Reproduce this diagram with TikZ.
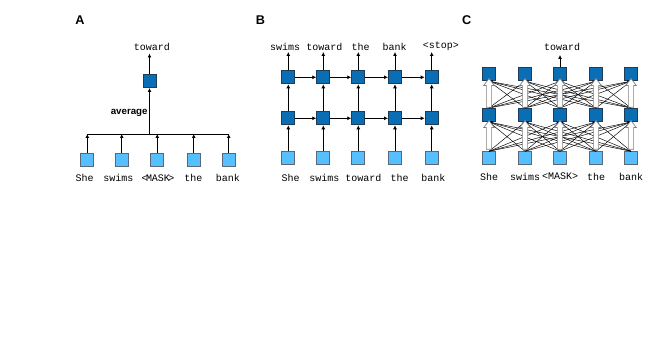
\documentclass[tikz,border=0pt]{standalone}
\usepackage{fontspec}
\setmainfont{Liberation Sans}
\newfontfamily\wordfont{Liberation Mono}
\usetikzlibrary{arrows.meta,shapes.arrows}
\definecolor{lightbox}{HTML}{55BFFF}
\definecolor{darkbox}{HTML}{0A6EB4}
\definecolor{darkedge}{HTML}{1E3C5A}
\definecolor{lightedge}{HTML}{5A6878}
\begin{document}
\begin{tikzpicture}[x=0.75pt,y=-0.75pt,
  lbox/.style={draw=lightedge, fill=lightbox, minimum size=9.8pt, inner sep=0pt, line width=0.7pt},
  dbox/.style={draw=darkedge, fill=darkbox, minimum size=9.8pt, inner sep=0pt, line width=0.7pt},
  word/.style={font=\wordfont\fontsize{7.5}{9}\selectfont, inner sep=0pt},
  panel/.style={font=\bfseries\fontsize{9.5}{11}\selectfont, inner sep=0pt},
  arr/.style={-{Latex[length=3pt,width=3pt]}, line width=0.6pt},
  thinarr/.style={-{Latex[length=2.4pt,width=2.4pt]}, line width=0.35pt},
  hollow/.style={single arrow, draw=gray, fill=white, line width=0.5pt, shape border rotate=90,
    minimum height=21.5pt, minimum width=7.5pt, single arrow head extend=2pt,
    single arrow tip angle=75, inner sep=1.7pt}
]
\useasboundingbox (0,0) rectangle (671,345);

% ---------- Panel A ----------
\node[panel] (labA) at (80,20.5) {A};
\foreach \i/\x in {1/87.3,2/121.7,3/157.3,4/193.7,5/228.7}
  \node[lbox] (a\i) at (\x,159.7) {};
\node[word] (wa1) at (84.7,178.3) {She};
\node[word] (wa2) at (118.3,178.3) {swims};
\node[word] (wa3) at (158,178.3) {<\kern-1.2ptMASK\kern-1.2pt>};
\node[word] (wa4) at (193.3,178.3) {the};
\node[word] (wa5) at (227.8,178.3) {bank};
\node[dbox] (ah) at (149.5,81) {};
\coordinate (barL) at (87.3,134);
\coordinate (barR) at (228.7,134);
\coordinate (barM) at (149.5,134);
\draw[line width=0.6pt] (barL) -- (barR);
\foreach \i in {1,...,5}
  \draw[arr] (a\i.north) -- (a\i.north |- barM);
\draw[arr] (barM) -- (ah.south);
\node[font=\bfseries\fontsize{7.3}{9}\selectfont, inner sep=0pt] (avg) at (129.2,112.5) {average};
\coordinate (atop) at (149.5,53.5);
\draw[arr] (ah.north) -- (atop);
\node[word] (wat) at (152,46.7) {toward};

% ---------- Panel B ----------
\node[panel] (labB) at (260.5,20.5) {B};
\foreach \i/\x in {1/288.3,2/323.3,3/358.3,4/395,5/431.7}{
  \node[lbox] (b\i) at (\x,158.3) {};
  \node[dbox] (m\i) at (\x,118.3) {};
  \node[dbox] (t\i) at (\x,77.3) {};
  \coordinate (bt\i) at (\x,52);
}
\foreach \i in {1,...,5}{
  \draw[arr] (b\i.north) -- (m\i.south);
  \draw[arr] (m\i.north) -- (t\i.south);
  \draw[arr] (t\i.north) -- (bt\i);
}
\foreach \i/\j in {1/2,2/3,3/4,4/5}{
  \draw[arr] (m\i.east) -- (m\j.west);
  \draw[arr] (t\i.east) -- (t\j.west);
}
\node[word] (wbt1) at (285,46.7) {swims};
\node[word] (wbt2) at (324.3,46.7) {toward};
\node[word] (wbt3) at (360.5,46.7) {the};
\node[word] (wbt4) at (394.7,46.7) {bank};
\node[word] (wbt5) at (440.8,46.7) {<stop>};
\node[word] (wbb1) at (290.5,178.3) {She};
\node[word] (wbb2) at (324.3,178.3) {swims};
\node[word] (wbb3) at (363.3,178.3) {toward};
\node[word] (wbb4) at (399.7,178.3) {the};
\node[word] (wbb5) at (433.3,178.3) {bank};

% ---------- Panel C ----------
\node[panel] (labC) at (466.7,19.7) {C};
\foreach \i/\x in {1/489,2/525,3/560,4/596,5/631}{
  \node[lbox] (c\i) at (\x,158.3) {};
  \node[dbox] (cm\i) at (\x,115) {};
  \node[dbox] (ct\i) at (\x,74.2) {};
}
\foreach \i in {1,...,5}
  \foreach \j in {1,...,5}{
    \ifnum\i=\j\else
      \draw[thinarr] (c\i.north) -- (cm\j.south);
      \draw[thinarr] (cm\i.north) -- (ct\j.south);
    \fi
  }
\foreach \i in {1,...,5}{
  \path (c\i.north) -- node[hollow, pos=0.5] (hb\i) {} (cm\i.south);
  \path (cm\i.north) -- node[hollow, pos=0.5] (ht\i) {} (ct\i.south);
}
\coordinate (ctop) at (560,55);
\draw[arr] (ct3.north) -- (ctop);
\node[word] (wct) at (562,46.7) {toward};
\node[word] (wc1) at (489,176.7) {She};
\node[word] (wc2) at (525,176.7) {swims};
\node[word] (wc3) at (560,176.7) {<MASK>};
\node[word] (wc4) at (596,176.7) {the};
\node[word] (wc5) at (631,176.7) {bank};
\end{tikzpicture}
\end{document}
